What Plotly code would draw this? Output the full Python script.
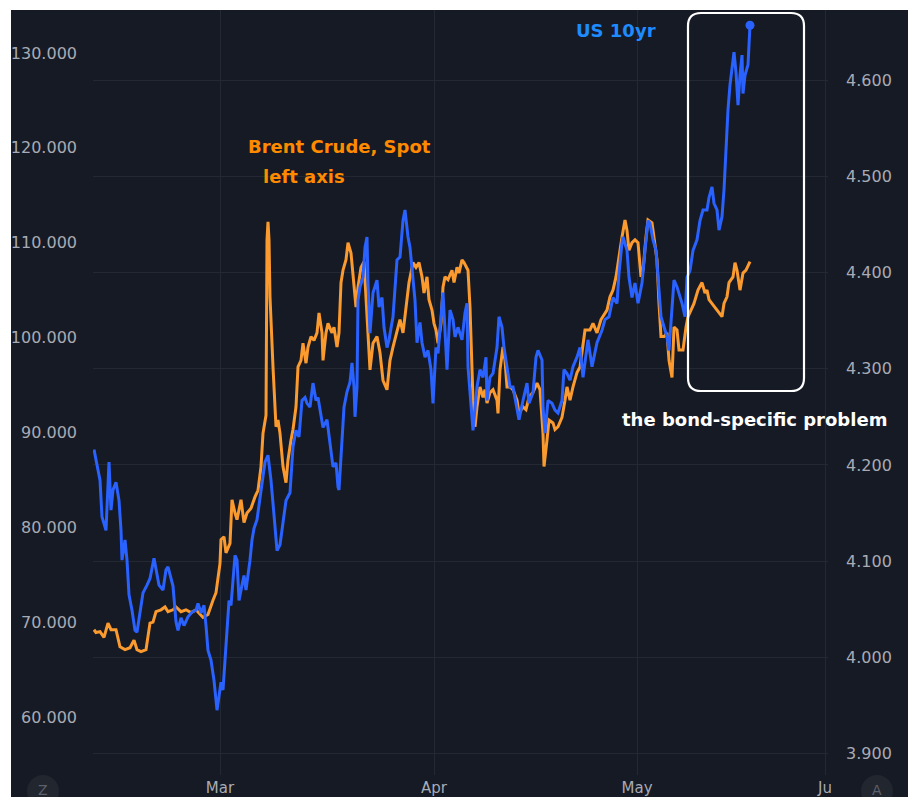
import plotly.graph_objects as go

# ---------------- data ----------------
# x = bar index on the time axis, month ticks at these bar indices
month_ticks = [127, 341, 544, 732]
month_labels = ["Mar", "Apr", "May", "Ju"]

brent_bar = [
    1, 3, 7, 11, 15, 18, 23, 27, 32, 37,
    41, 44, 48, 53, 57, 60, 63, 68, 72, 75,
    80, 83, 88, 93, 98, 103, 110, 115, 120, 123,
    127, 128, 131, 133, 137, 139, 142, 144, 148, 151,
    154, 158, 162, 165, 168, 170, 173, 174, 175, 176,
    177, 178, 180, 183, 185, 187, 190, 193, 195, 198,
    200, 203, 205, 208, 210, 213, 215, 218, 221, 224,
    226, 229, 230, 233, 235, 239, 241, 244, 246, 248,
    250, 253, 255, 258, 260, 263, 265, 268, 271, 274,
    275, 277, 280, 284, 287, 290, 294, 297, 300, 304,
    307, 310, 313, 316, 320, 323, 326, 329, 331, 334,
    336, 339, 341, 343, 345, 348, 350, 352, 355, 359,
    361, 364, 366, 369, 371, 373, 375, 377, 379, 380,
    382, 384, 387, 390, 392, 394, 397, 400, 404, 405,
    407, 410, 412, 414, 417, 420, 424, 426, 430, 433,
    436, 440, 444, 447, 450, 451, 454, 456, 460, 462,
    465, 469, 472, 474, 477, 480, 484, 487, 492, 497,
    500, 504, 508, 510, 514, 517, 520, 523, 525, 529,
    532, 534, 536, 539, 542, 545, 548, 550, 553, 555,
    559, 561, 564, 566, 568, 571, 574, 576, 579, 581,
    584, 586, 590, 593, 595, 598, 601, 605, 609, 612,
    614, 616, 619, 622, 625, 629, 631, 634, 636, 640,
    642, 644, 647, 650, 653, 657,
]
brent_val = [
    69.2, 68.9, 69.0, 68.4, 69.9, 69.2, 69.2, 67.4, 67.1, 67.3,
    68.1, 67.1, 66.9, 67.1, 69.9, 70.0, 71.1, 71.3, 71.6, 71.1,
    71.3, 71.6, 71.1, 71.3, 71.0, 71.3, 70.5, 70.8, 72.3, 73.1,
    76.2, 78.7, 79.0, 77.3, 78.3, 82.9, 81.5, 80.8, 82.9, 80.5,
    81.5, 82.0, 83.2, 83.9, 86.4, 89.9, 91.8, 110.3, 112.2, 110.3,
    104.3, 101.1, 96.9, 90.6, 91.3, 89.9, 86.4, 84.7, 87.1, 89.2,
    90.3, 92.7, 96.9, 97.6, 99.4, 97.3, 99.0, 100.1, 99.7, 100.5,
    102.6, 100.5, 97.6, 100.5, 101.5, 100.5, 101.1, 99.0, 100.5, 105.8,
    107.1, 108.2, 110.0, 108.9, 106.4, 103.2, 105.3, 107.4, 108.0, 102.6,
    100.5, 96.6, 99.4, 100.1, 98.4, 95.5, 94.5, 97.6, 99.0, 100.5,
    101.9, 100.5, 103.2, 105.8, 107.9, 107.4, 107.9, 106.4, 104.7, 106.4,
    104.0, 102.9, 101.5, 100.8, 99.4, 101.5, 105.3, 106.4, 106.1, 107.1,
    105.8, 107.4, 106.8, 108.2, 107.9, 107.4, 107.1, 103.2, 97.6, 93.4,
    90.6, 92.7, 94.8, 93.7, 94.5, 93.1, 94.2, 94.5, 93.4, 92.0,
    96.6, 99.0, 97.6, 94.8, 94.8, 94.5, 93.4, 92.0, 92.7, 92.4,
    93.7, 94.2, 95.2, 94.5, 89.9, 86.4, 89.2, 91.3, 91.0, 90.3,
    90.6, 91.6, 93.4, 94.8, 93.4, 94.8, 96.3, 96.9, 100.8, 100.8,
    101.5, 100.5, 101.9, 102.2, 102.9, 104.3, 105.0, 106.4, 107.9, 110.6,
    112.4, 111.3, 109.2, 110.0, 110.3, 110.0, 106.4, 107.1, 110.6, 112.4,
    112.1, 110.6, 108.2, 103.6, 100.1, 100.1, 100.5, 97.6, 95.8, 101.1,
    100.8, 98.7, 98.7, 101.1, 102.2, 102.9, 103.6, 105.0, 105.8, 104.7,
    105.0, 104.0, 103.6, 103.2, 102.8, 102.2, 103.6, 104.3, 105.8, 106.4,
    107.9, 107.1, 105.0, 106.8, 107.1, 108.0,
]

us10_bar = [
    1, 3, 7, 9, 13, 16, 18, 20, 23, 26,
    28, 29, 32, 34, 36, 39, 42, 44, 47, 50,
    54, 57, 61, 63, 66, 70, 73, 75, 77, 80,
    83, 85, 88, 91, 95, 99, 103, 105, 108, 111,
    113, 115, 118, 121, 124, 126, 128, 130, 132, 134,
    136, 138, 140, 142, 144, 146, 149, 151, 153, 155,
    157, 159, 161, 164, 168, 172, 175, 178, 181, 184,
    187, 190, 193, 197, 200, 203, 206, 209, 212, 214,
    217, 220, 223, 225, 228, 230, 234, 237, 240, 243,
    245, 246, 249, 251, 254, 257, 259, 261, 262, 264,
    265, 267, 270, 272, 274, 275, 277, 279, 280, 284,
    286, 289, 291, 294, 296, 300, 302, 304, 307, 310,
    312, 315, 317, 319, 322, 324, 327, 329, 332, 335,
    338, 340, 343, 345, 349, 350, 354, 357, 360, 362,
    365, 369, 372, 374, 375, 378, 380, 384, 387, 390,
    393, 394, 397, 400, 404, 406, 409, 411, 414, 417,
    420, 424, 426, 430, 434, 436, 440, 443, 445, 449,
    450, 452, 455, 459, 462, 465, 469, 471, 474, 477,
    480, 484, 487, 490, 495, 499, 504, 509, 512, 516,
    520, 524, 526, 529, 530, 534, 536, 539, 542, 545,
    549, 552, 555, 557, 560, 563, 565, 568, 570, 574,
    576, 579, 581, 584, 589, 592, 594, 597, 600, 604,
    607, 610, 614, 616, 619, 621, 624, 626, 629, 631,
    633, 635, 637, 639, 641, 643, 645, 647, 649, 650,
    652, 655, 657,
]
us10_val = [
    4.216, 4.205, 4.184, 4.146, 4.132, 4.203, 4.153, 4.174, 4.182, 4.163,
    4.132, 4.101, 4.122, 4.101, 4.065, 4.049, 4.028, 4.026, 4.049, 4.067,
    4.075, 4.082, 4.103, 4.091, 4.075, 4.070, 4.091, 4.094, 4.085, 4.074,
    4.037, 4.028, 4.041, 4.033, 4.042, 4.047, 4.049, 4.056, 4.046, 4.054,
    4.033, 4.007, 3.997, 3.976, 3.945, 3.961, 3.974, 3.966, 3.997, 4.039,
    4.059, 4.054, 4.080, 4.106, 4.101, 4.059, 4.075, 4.085, 4.070, 4.085,
    4.101, 4.122, 4.134, 4.143, 4.171, 4.203, 4.210, 4.184, 4.148, 4.111,
    4.117, 4.143, 4.163, 4.171, 4.219, 4.236, 4.229, 4.267, 4.270, 4.264,
    4.260, 4.285, 4.267, 4.270, 4.250, 4.239, 4.247, 4.219, 4.198, 4.202,
    4.177, 4.174, 4.233, 4.260, 4.276, 4.286, 4.306, 4.281, 4.250, 4.281,
    4.371, 4.385, 4.395, 4.426, 4.437, 4.389, 4.337, 4.361, 4.379, 4.392,
    4.364, 4.374, 4.343, 4.322, 4.330, 4.354, 4.379, 4.413, 4.416, 4.454,
    4.465, 4.437, 4.426, 4.406, 4.371, 4.327, 4.348, 4.327, 4.312, 4.319,
    4.299, 4.264, 4.322, 4.316, 4.374, 4.379, 4.299, 4.361, 4.351, 4.333,
    4.343, 4.330, 4.358, 4.368, 4.302, 4.260, 4.236, 4.281, 4.299, 4.291,
    4.312, 4.267, 4.291, 4.295, 4.322, 4.354, 4.343, 4.322, 4.302, 4.281,
    4.281, 4.257, 4.247, 4.267, 4.285, 4.264, 4.275, 4.312, 4.319, 4.309,
    4.260, 4.233, 4.267, 4.264, 4.257, 4.254, 4.267, 4.299, 4.295, 4.288,
    4.302, 4.312, 4.322, 4.291, 4.330, 4.302, 4.327, 4.340, 4.351, 4.354,
    4.374, 4.368, 4.399, 4.431, 4.437, 4.423, 4.395, 4.374, 4.389, 4.368,
    4.389, 4.423, 4.454, 4.451, 4.434, 4.423, 4.399, 4.354, 4.347, 4.333,
    4.319, 4.361, 4.392, 4.385, 4.368, 4.354, 4.395, 4.402, 4.423, 4.434,
    4.454, 4.465, 4.465, 4.478, 4.489, 4.472, 4.465, 4.444, 4.458, 4.486,
    4.535, 4.569, 4.595, 4.610, 4.629, 4.608, 4.574, 4.605, 4.626, 4.586,
    4.605, 4.616, 4.657,
]

brent_ticks = [60, 70, 80, 90, 100, 110, 120, 130]
us10_ticks = [3.9, 4.0, 4.1, 4.2, 4.3, 4.4, 4.5, 4.6]

# ---------------- layout geometry ----------------
W, H = 908, 797
L, R, T, B = 93, 80, 10, 22
PW, PH = W - L - R, H - T - B


def px(x):
    return (x - L) / PW


def py(y):
    return (H - B - y) / PH


BG = "#161a25"
GRID = "#242833"
TICK = "#a8abb4"
BLUE = "#2962ff"
ORANGE = "#fb9a2e"

fig = go.Figure()
fig.add_trace(go.Scatter(
    x=brent_bar, y=brent_val, mode="lines", yaxis="y",
    line=dict(color=ORANGE, width=3), name="Brent Crude, Spot",
    hoverinfo="skip",
))
fig.add_trace(go.Scatter(
    x=us10_bar, y=us10_val, mode="lines", yaxis="y2",
    line=dict(color=BLUE, width=3), name="US 10yr",
    hoverinfo="skip",
))
fig.add_trace(go.Scatter(
    x=[us10_bar[-1]], y=[us10_val[-1]], mode="markers", yaxis="y2",
    marker=dict(color=BLUE, size=9), hoverinfo="skip", showlegend=False,
))

shapes = []
# white page border (top and left)
shapes.append(dict(type="rect", xref="paper", yref="paper",
                   x0=px(0), x1=px(W), y0=py(10), y1=py(0),
                   fillcolor="white", line=dict(width=0), layer="above"))
shapes.append(dict(type="rect", xref="paper", yref="paper",
                   x0=px(0), x1=px(11), y0=py(H), y1=py(0),
                   fillcolor="white", line=dict(width=0), layer="above"))

# rounded highlight box
x0, x1, y0, y1 = px(688), px(804), py(391), py(13)
rx, ry = 13 / PW, 13 / PH
path = (f"M {x0 + rx},{y1} L {x1 - rx},{y1} Q {x1},{y1} {x1},{y1 - ry} "
        f"L {x1},{y0 + ry} Q {x1},{y0} {x1 - rx},{y0} "
        f"L {x0 + rx},{y0} Q {x0},{y0} {x0},{y0 + ry} "
        f"L {x0},{y1 - ry} Q {x0},{y1} {x0 + rx},{y1} Z")
shapes.append(dict(type="path", xref="paper", yref="paper", path=path,
                   line=dict(color="white", width=2.2), layer="above"))

# round buttons at bottom corners
for cx in (43, 877):
    shapes.append(dict(type="circle", xref="paper", yref="paper",
                       x0=px(cx - 16), x1=px(cx + 16), y0=py(807), y1=py(775),
                       fillcolor="#22262f", line=dict(width=0), layer="above"))


def label(text, x, y, color, size=18):
    return dict(text=text, x=px(x), y=py(y), xref="paper", yref="paper",
                xanchor="center", yanchor="middle", showarrow=False,
                font=dict(family="DejaVu Sans", size=size, color=color))


annotations = [
    label("<b>US 10yr</b>", 616, 30, "#1e8cff"),
    label("<b>Brent Crude, Spot</b>", 339, 146, "#ff8a00"),
    label("<b>left axis</b>", 304, 176, "#ff8a00"),
    label("<b>the bond-specific problem</b>", 754, 419, "white"),
    label("Z", 43, 790, "#5d606b", 14),
    label("A", 877, 790, "#5d606b", 14),
]

fig.update_layout(
    width=W, height=H,
    margin=dict(l=L, r=R, t=T, b=B, pad=0, autoexpand=False),
    paper_bgcolor=BG, plot_bgcolor=BG,
    showlegend=False,
    font=dict(family="DejaVu Sans", color=TICK, size=16),
    xaxis=dict(
        range=[0, PW], tickvals=month_ticks, ticktext=month_labels,
        showgrid=True, gridcolor=GRID, gridwidth=1, zeroline=False,
        showline=False, ticks="", tickfont=dict(size=15, color=TICK),
        ticklabelstandoff=2, automargin=False,
    ),
    yaxis=dict(
        range=[60 - (H - B - 717) / 9.486, 60 + (717 - T) / 9.486],
        tickvals=brent_ticks, tickformat=".3f", side="left",
        showgrid=False, zeroline=False, showline=False, ticks="",
        tickfont=dict(size=16, color=TICK), ticklabelstandoff=15,
        automargin=False,
    ),
    yaxis2=dict(
        range=[3.9 - (H - B - 753.5) / 962, 3.9 + (753.5 - T) / 962],
        tickvals=us10_ticks, tickformat=".3f", ticksuffix="%",
        overlaying="y", side="right",
        showgrid=True, gridcolor=GRID, gridwidth=1, zeroline=False,
        showline=False, ticks="", tickfont=dict(size=16, color=TICK),
        ticklabelstandoff=17, automargin=False,
    ),
    shapes=shapes,
    annotations=annotations,
)

fig.write_html(
    "out.html",
    config={"displayModeBar": False, "staticPlot": True},
    post_script="document.body.style.margin='0px';",
)
